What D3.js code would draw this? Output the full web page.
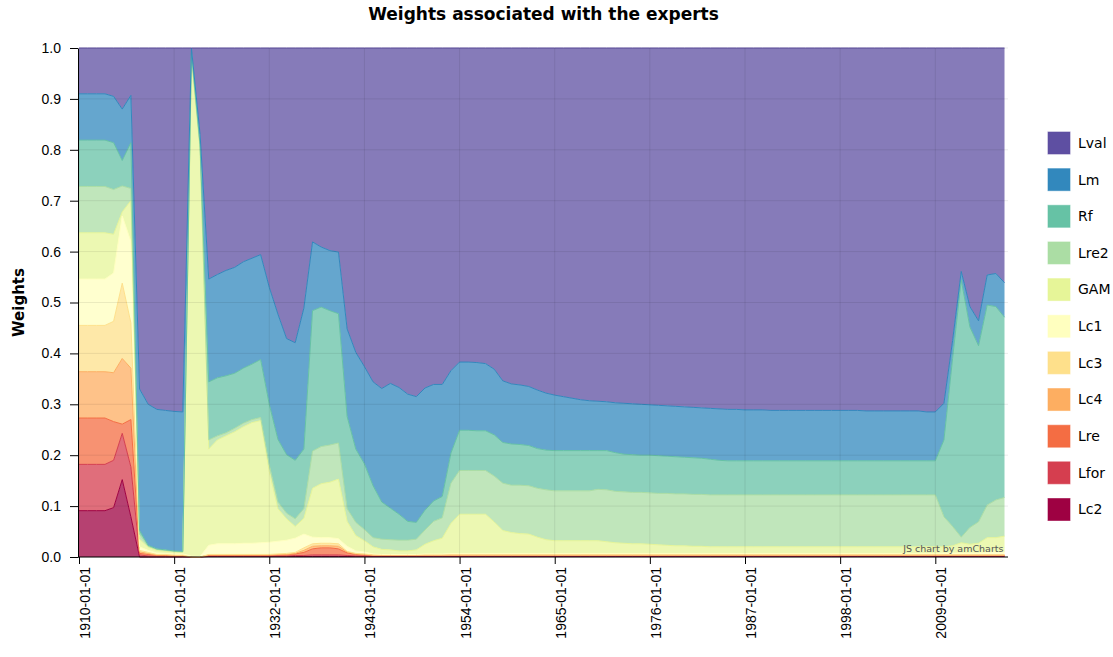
<!DOCTYPE html>
<html>
<head>
<meta charset="utf-8">
<script src="https://cdn.jsdelivr.net/npm/d3@7"></script>
<style>
	body { margin: 0; background: #fff; }
	svg { display: block; font-family: "DejaVu Sans", Verdana, sans-serif; }
</style>
</head>
<body>
<svg id="chart" width="1113" height="657"></svg>
<script>
// one value per year, 1910 .. 2017
var years = d3.range(1910, 2018);

// stacking order, bottom to top
var seriesNames = ['Lc2', 'Lfor', 'Lre', 'Lc4', 'Lc3', 'Lc1', 'GAM', 'Lre2', 'Rf', 'Lm', 'Lval'];
var seriesColors = ['#9e0142', '#d53e4f', '#f46d43', '#fdae61', '#fee08b', '#ffffbf', '#e6f598', '#abdda4', '#66c2a5', '#3288bd', '#5e4fa2'];

var Lc2 = [
	.091, .091, .091, .091, .097, .152, .079, 0, 0, 0,
	0, 0, 0, 0, 0, .001, .001, .001, .001, .001,
	.001, .001, .001, .001, .001, .001, .001, .001, .001, .001,
	.001, .001, .001, .001, .001, .001, .001, .001, .001, .001,
	.001, .001, .001, .001, .001, .001, .001, .001, .001, .001,
	.001, .001, .001, .001, .001, .001, .001, .001, .001, .001,
	.001, .001, .001, .001, .001, .001, .001, .001, .001, .001,
	.001, .001, .001, .001, .001, .001, .001, .001, .001, .001,
	.001, .001, .001, .001, .001, .001, .001, .001, .001, .001,
	.001, .001, .001, .001, .001, .001, .001, .001, .001, .001,
	.001, .001, .001, .001, .001, .001, .001, .001
];
var Lfor = [
	.091, .091, .091, .091, .093, .091, .098, .004, .002, .001,
	.001, .001, .001, 0, 0, .001, .001, .001, .001, .001,
	.001, .001, .001, .001, .001, .002, .002, .003, .003, .003,
	.003, .002, .001, .001, .001, .001, .001, .001, .001, .001,
	.001, .001, .001, .001, .001, .001, .001, .001, .001, .001,
	.001, .001, .001, .001, .001, .001, .001, .001, .001, .001,
	.001, .001, .001, .001, .001, .001, .001, .001, .001, .001,
	.001, .001, .001, .001, .001, .001, .001, .001, .001, .001,
	.001, .001, .001, .001, .001, .001, .001, .001, .001, .001,
	.001, .001, .001, .001, .001, .001, .001, .001, .001, .001,
	.001, .001, .001, .001, .001, .001, .001, .001
];
var Lre = [
	.091, .091, .091, .091, .076, .018, .093, .003, .003, .002,
	.002, .001, .001, 0, 0, .001, .001, .001, .001, .001,
	.001, .001, .001, .002, .002, .003, .006, .012, .014, .014,
	.012, .005, .003, .002, .001, .001, .001, .001, .001, .001,
	.001, .001, .001, .001, .001, .001, .001, .001, .001, .001,
	.001, .001, .001, .001, .001, .001, .001, .001, .001, .001,
	.001, .001, .001, .001, .001, .001, .001, .001, .001, .001,
	.001, .001, .001, .001, .001, .001, .001, .001, .001, .001,
	.001, .001, .001, .001, .001, .001, .001, .001, .001, .001,
	.001, .001, .001, .001, .001, .001, .001, .001, .001, .001,
	.001, .001, .001, .001, .001, .001, .001, .001
];
var Lc4 = [
	.091, .091, .091, .091, .096, .129, .101, .003, .002, .001,
	.001, .001, .001, 0, 0, .001, .001, .001, .001, .001,
	.001, .001, .001, .001, .001, .001, .004, .005, .004, .004,
	.005, .002, .001, .001, .001, .001, .001, .001, .001, .001,
	.001, .001, .001, .001, .001, .001, .001, .001, .001, .001,
	.001, .001, .001, .001, .001, .001, .001, .001, .001, .001,
	.001, .001, .001, .001, .001, .001, .001, .001, .001, .001,
	.001, .001, .001, .001, .001, .001, .001, .001, .001, .001,
	.001, .001, .001, .001, .001, .001, .001, .001, .001, .001,
	.001, .001, .001, .001, .001, .001, .001, .001, .001, .001,
	.001, .001, .001, .001, .001, .001, .001, .001
];
var Lc3 = [
	.091, .091, .091, .091, .101, .148, .089, .003, .002, .001,
	.001, .001, .001, 0, 0, .001, .001, .001, .001, .001,
	.001, .001, .001, .001, .002, .002, .005, .005, .005, .005,
	.005, .001, .001, .001, 0, 0, 0, 0, 0, 0,
	0, 0, 0, 0, 0, 0, 0, 0, 0, 0,
	0, 0, 0, 0, 0, 0, 0, 0, 0, 0,
	0, 0, 0, 0, 0, 0, 0, 0, 0, 0,
	0, 0, 0, 0, 0, 0, 0, 0, 0, 0,
	0, 0, 0, 0, 0, 0, 0, 0, 0, 0,
	0, 0, 0, 0, 0, 0, 0, 0, 0, 0,
	0, 0, 0, 0, 0, 0, 0, 0
];
var Lc1 = [
	.091, .091, .091, .091, .095, .132, .160, .007, .004, .003,
	.002, .002, .002, .002, .001, .018, .021, .021, .021, .022,
	.022, .023, .024, .025, .026, .028, .027, .013, .011, .011,
	.010, .010, .005, .004, .002, .001, .001, .001, .001, .001,
	.002, .002, .002, .003, .003, .003, .003, .003, .003, .003,
	.003, .003, .003, .003, .003, .003, .003, .003, .003, .003,
	.003, .003, .003, .003, .003, .003, .003, .003, .003, .003,
	.003, .003, .003, .003, .003, .003, .003, .003, .003, .003,
	.003, .003, .003, .003, .003, .003, .003, .003, .003, .003,
	.003, .003, .003, .003, .003, .003, .003, .003, .003, .003,
	.004, .004, .004, .004, .004, .006, .006, .006
];
var GAM = [
	.091, .091, .091, .091, .076, .008, .080, .015, .006, .005,
	.004, .004, .003, .973, .799, .189, .204, .212, .220, .229,
	.237, .240, .139, .064, .042, .023, .031, .096, .106, .109,
	.117, .049, .030, .022, .014, .010, .009, .007, .007, .009,
	.019, .026, .031, .059, .077, .077, .077, .077, .062, .045,
	.041, .039, .038, .032, .027, .025, .025, .025, .025, .025,
	.025, .023, .021, .020, .019, .019, .018, .017, .016, .015,
	.015, .014, .014, .013, .013, .013, .013, .013, .013, .013,
	.013, .013, .013, .013, .013, .013, .013, .013, .013, .013,
	.013, .013, .013, .013, .013, .013, .013, .013, .013, .013,
	.012, .014, .020, .017, .019, .028, .028, .031
];
var Lre2 = [
	.091, .091, .091, .091, .088, .051, .024, .010, .002, .002,
	.002, .001, .001, .010, .005, .018, .008, .006, .007, .007,
	.006, .006, .013, .013, .011, .015, .019, .073, .073, .073,
	.071, .025, .026, .022, .018, .020, .020, .021, .021, .021,
	.028, .038, .040, .079, .086, .086, .086, .086, .090, .093,
	.093, .095, .095, .096, .098, .098, .098, .098, .098, .098,
	.101, .102, .101, .101, .101, .101, .101, .101, .102, .102,
	.102, .102, .102, .102, .102, .102, .102, .102, .102, .102,
	.102, .102, .102, .102, .102, .102, .102, .102, .102, .102,
	.102, .102, .102, .102, .102, .102, .102, .102, .102, .102,
	.059, .038, .011, .033, .042, .064, .074, .076
];
var Rf = [
	.091, .091, .091, .091, .092, .050, .090, .007, .002, .001,
	.001, .001, .001, .008, .005, .114, .114, .112, .108, .108,
	.109, .114, .119, .123, .115, .115, .117, .276, .274, .264,
	.254, .181, .144, .129, .102, .073, .062, .051, .037, .033,
	.039, .040, .042, .059, .079, .079, .078, .078, .081, .080,
	.081, .080, .079, .078, .078, .079, .079, .079, .079, .079,
	.076, .077, .076, .074, .074, .073, .074, .074, .073, .073,
	.072, .072, .071, .070, .068, .067, .067, .067, .067, .067,
	.067, .067, .067, .067, .067, .067, .067, .067, .067, .067,
	.067, .067, .067, .067, .067, .067, .067, .067, .067, .067,
	.151, .330, .505, .394, .346, .393, .380, .354
];
var Lm = [
	.091, .091, .091, .091, .091, .101, .093, .278, .277, .274,
	.274, .274, .274, .007, .020, .202, .203, .207, .208, .209,
	.208, .206, .230, .246, .228, .231, .277, .135, .118, .118,
	.121, .172, .190, .191, .204, .223, .245, .249, .250, .247,
	.240, .229, .220, .162, .134, .134, .134, .132, .129, .121,
	.118, .117, .116, .115, .112, .109, .106, .103, .100, .098,
	.097, .096, .098, .100, .100, .100, .099, .099, .099, .099,
	.099, .099, .099, .100, .101, .101, .101, .100, .100, .100,
	.099, .099, .099, .099, .099, .099, .099, .099, .099, .099,
	.099, .098, .098, .098, .098, .098, .098, .098, .096, .096,
	.072, .035, .017, .040, .049, .059, .065, .068
];
var Lval = [
	.090, .090, .090, .090, .095, .120, .093, .670, .700, .710,
	.712, .714, .715, 0, .170, .454, .445, .437, .431, .420,
	.413, .406, .470, .523, .571, .579, .511, .381, .391, .398,
	.401, .552, .598, .626, .656, .669, .659, .667, .680, .685,
	.668, .661, .661, .634, .617, .617, .618, .620, .631, .654,
	.660, .662, .665, .672, .678, .682, .685, .688, .691, .693,
	.694, .695, .697, .698, .699, .700, .701, .702, .703, .704,
	.705, .706, .707, .708, .709, .710, .710, .711, .711, .711,
	.712, .712, .712, .712, .712, .712, .712, .712, .712, .712,
	.712, .713, .713, .713, .713, .713, .713, .713, .715, .715,
	.698, .575, .439, .508, .536, .446, .443, .461
];

var tickYears = [1910, 1921, 1932, 1943, 1954, 1965, 1976, 1987, 1998, 2009];
var weightTicks = [0, 0.1, 0.2, 0.3, 0.4, 0.5, 0.6, 0.7, 0.8, 0.9, 1.0];

var Chart = Chart || {};

(function() {
	var margin = {left: 79, right: 1008, top: 48, bottom: 557};
	var dataRight = 1004.5;

	Chart.draw = function() {
		var svg = d3.select('#chart');
		var values = {Lc2: Lc2, Lfor: Lfor, Lre: Lre, Lc4: Lc4, Lc3: Lc3, Lc1: Lc1,
			GAM: GAM, Lre2: Lre2, Rf: Rf, Lm: Lm, Lval: Lval};

		// build one row per year for d3.stack
		var rows = years.map(function(yr, i) {
			var row = {date: new Date(Date.UTC(yr, 0, 1))};
			seriesNames.forEach(function(k) { row[k] = values[k][i]; });
			return row;
		});
		var stacked = d3.stack().keys(seriesNames)(rows);

		var x = d3.scaleUtc()
			.domain([new Date(Date.UTC(1910, 0, 1)), new Date(Date.UTC(2017, 0, 1))])
			.range([margin.left, dataRight]);
		var y = d3.scaleLinear().domain([0, 1]).range([margin.bottom, margin.top]);
		var color = d3.scaleOrdinal().domain(seriesNames).range(seriesColors);
		var tickDates = tickYears.map(function(d) { return new Date(Date.UTC(d, 0, 1)); });

		// title
		svg.append('text')
			.attr('x', (margin.left + margin.right) / 2)
			.attr('y', 20)
			.attr('text-anchor', 'middle')
			.style('font-size', '17px')
			.style('font-weight', 'bold')
			.text('Weights associated with the experts');

		// stacked areas
		var area = d3.area()
			.x(function(d) { return x(d.data.date); })
			.y0(function(d) { return y(d[0]); })
			.y1(function(d) { return y(d[1]); });
		var line = d3.line()
			.x(function(d) { return x(d.data.date); })
			.y(function(d) { return y(d[1]); });

		svg.append('g').selectAll('path')
			.data(stacked)
			.enter().append('path')
				.attr('d', area)
				.attr('fill', function(d) { return color(d.key); })
				.attr('fill-opacity', 0.75);

		svg.append('g').selectAll('path')
			.data(stacked)
			.enter().append('path')
				.attr('d', line)
				.attr('fill', 'none')
				.attr('stroke', function(d) { return color(d.key); })
				.attr('stroke-width', 1);

		// grid
		var grid = svg.append('g').attr('stroke', '#000').attr('stroke-opacity', 0.08);
		grid.selectAll('.hgrid')
			.data(weightTicks)
			.enter().append('line')
				.attr('x1', margin.left).attr('x2', margin.right)
				.attr('y1', function(d) { return y(d); })
				.attr('y2', function(d) { return y(d); });
		grid.selectAll('.vgrid')
			.data(tickDates)
			.enter().append('line')
				.attr('y1', margin.top).attr('y2', margin.bottom)
				.attr('x1', function(d) { return x(d); })
				.attr('x2', function(d) { return x(d); });

		svg.append('text')
			.attr('x', dataRight - 1)
			.attr('y', margin.bottom - 5)
			.attr('text-anchor', 'end')
			.attr('fill', '#555')
			.style('font-size', '9.5px')
			.text('JS chart by amCharts');

		// y axis
		var yAxis = svg.append('g')
			.attr('transform', 'translate(' + (margin.left - 1) + ',0)')
			.call(d3.axisLeft(y).tickValues(weightTicks).tickFormat(d3.format('.1f'))
				.tickSize(8).tickPadding(9).tickSizeOuter(0));
		yAxis.selectAll('text').style('font-size', '14px').attr('fill', '#000');
		yAxis.selectAll('line, path').attr('stroke', '#000');

		svg.append('text')
			.attr('transform', 'translate(24,' + ((margin.top + margin.bottom) / 2) + ') rotate(-90)')
			.attr('text-anchor', 'middle')
			.style('font-size', '15px')
			.style('font-weight', 'bold')
			.text('Weights');

		// x axis
		var xAxis = svg.append('g')
			.attr('transform', 'translate(0,' + margin.bottom + ')')
			.call(d3.axisBottom(x).tickValues(tickDates).tickFormat(d3.utcFormat('%Y-%m-%d'))
				.tickSize(7).tickSizeOuter(0));
		xAxis.select('.domain').attr('d', 'M' + (margin.left - 1) + ',0H' + margin.right);
		xAxis.selectAll('line, path').attr('stroke', '#000');
		xAxis.selectAll('text')
			.style('font-size', '14px')
			.attr('fill', '#000')
			.attr('text-anchor', 'end')
			.attr('transform', 'rotate(-90)')
			.attr('x', -10)
			.attr('y', 0)
			.attr('dy', '0.75em');

		// legend, top series first
		var legend = svg.append('g').selectAll('g')
			.data(seriesNames.slice().reverse())
			.enter().append('g')
				.attr('transform', function(d, i) { return 'translate(1048,' + (132 + i * 36.65) + ')'; });
		legend.append('rect')
			.attr('width', 22).attr('height', 22)
			.attr('fill', function(d) { return color(d); })
			.attr('stroke', function(d) { return color(d); })
			.attr('stroke-opacity', 0.6);
		legend.append('text')
			.attr('x', 30).attr('y', 11).attr('dy', '0.35em')
			.style('font-size', '14px')
			.text(function(d) { return d; });
	};

	Chart.draw();
})();
</script>
</body>
</html>
